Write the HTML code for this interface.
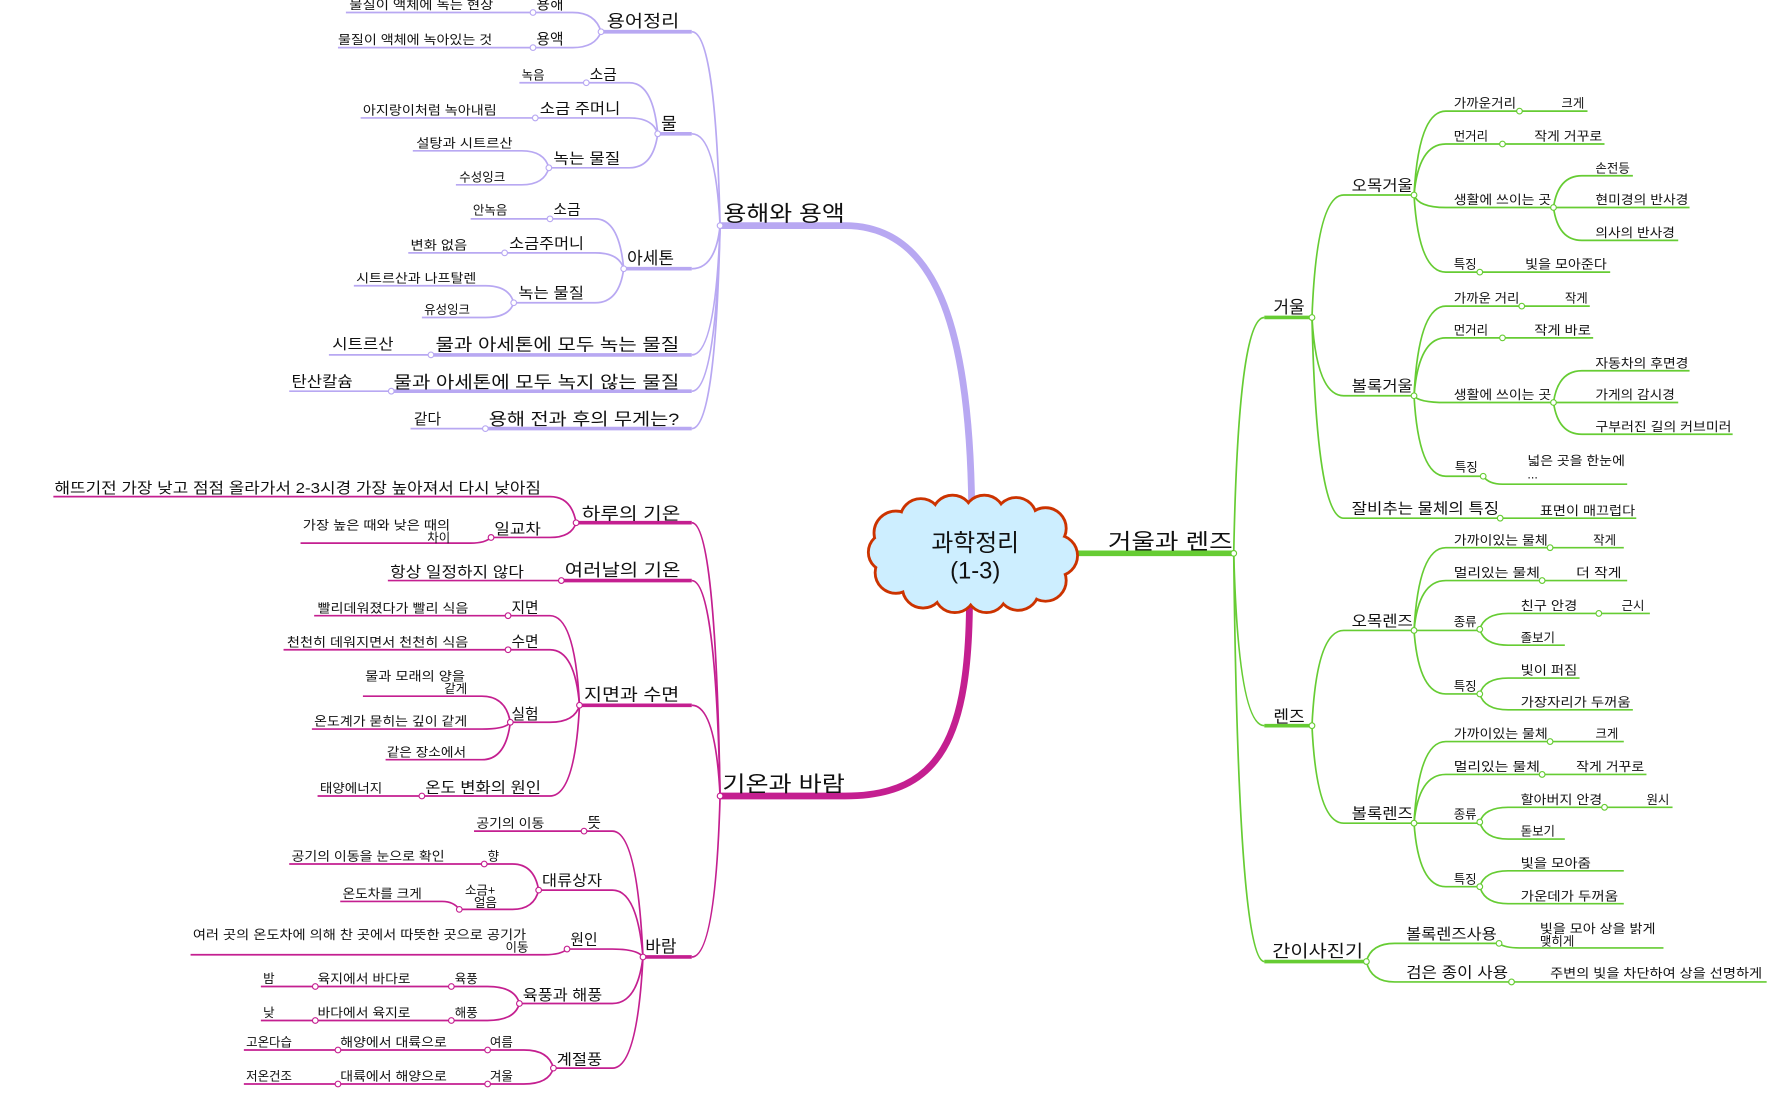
<!DOCTYPE html>
<html><head><meta charset="utf-8"><style>
html,body{margin:0;padding:0;background:#fff;}
svg{display:block;}
text{font-family:"Liberation Sans","Noto Sans CJK KR",sans-serif;fill:#111;}
.p{stroke:#b8a8f2;fill:none;stroke-width:1.5}
.m{stroke:#c41f90;fill:none;stroke-width:1.5}
.g{stroke:#66cc33;fill:none;stroke-width:1.5}
.t{stroke-width:3.2}
.s{font-size:11px}.n{font-size:13px}.l{font-size:15px}.b{font-size:19px}
circle.np{fill:#fff;stroke:#b8a8f2;stroke-width:1}
circle.nm{fill:#fff;stroke:#c41f90;stroke-width:1}
circle.ng{fill:#fff;stroke:#66cc33;stroke-width:1}
</style></head><body>
<svg width="1769" height="1101" viewBox="0 0 1560 971" xmlns="http://www.w3.org/2000/svg">
<!-- main branches -->
<path d="M857 455 C856 300 830 199 745 199 L635 199" fill="none" stroke="#b8a8f2" stroke-width="6"/>
<path d="M855 525 C855 650 830 702 745 702 L635 702" fill="none" stroke="#c41f90" stroke-width="6"/>
<path d="M940 488 L1088 488" fill="none" stroke="#66cc33" stroke-width="5"/>

<!-- cloud -->
<g stroke="#cc3300" stroke-width="5" fill="#cdeeff">
<circle cx="790" cy="470" r="18"/><circle cx="812" cy="458" r="17"/><circle cx="840" cy="455" r="17"/><circle cx="868" cy="455" r="17"/><circle cx="896" cy="457" r="17"/><circle cx="922" cy="466" r="17"/><circle cx="932" cy="490" r="17"/><circle cx="922" cy="512" r="17"/><circle cx="898" cy="520" r="17"/><circle cx="870" cy="522" r="17"/><circle cx="842" cy="522" r="17"/><circle cx="814" cy="518" r="17"/><circle cx="790" cy="505" r="17"/><circle cx="783" cy="487" r="16"/>
</g>
<g fill="#cdeeff">
<circle cx="790" cy="470" r="18"/><circle cx="812" cy="458" r="17"/><circle cx="840" cy="455" r="17"/><circle cx="868" cy="455" r="17"/><circle cx="896" cy="457" r="17"/><circle cx="922" cy="466" r="17"/><circle cx="932" cy="490" r="17"/><circle cx="922" cy="512" r="17"/><circle cx="898" cy="520" r="17"/><circle cx="870" cy="522" r="17"/><circle cx="842" cy="522" r="17"/><circle cx="814" cy="518" r="17"/><circle cx="790" cy="505" r="17"/><circle cx="783" cy="487" r="16"/>
<ellipse cx="858" cy="488" rx="72" ry="30"/>
</g>
<text x="860" y="486" text-anchor="middle" style="font-size:21px">과학정리</text>
<text x="860" y="510" text-anchor="middle" style="font-size:21px">(1-3)</text>

<text class="b" x="638" y="195" textLength="107" lengthAdjust="spacingAndGlyphs">용해와 용액</text>
<text class="b" x="637" y="698" textLength="108" lengthAdjust="spacingAndGlyphs">기온과 바람</text>
<text class="b" x="977" y="484" textLength="110" lengthAdjust="spacingAndGlyphs">거울과 렌즈</text>

<!-- ========== PURPLE ========== -->
<g>
<path class="p" d="M635 199 Q631 28 610 28"/><path class="p t" d="M610 28 H530"/>
<path class="p" d="M635 199 Q631 118 610 118"/><path class="p t" d="M610 118 H580"/>
<path class="p" d="M635 199 Q631 237 610 237"/><path class="p t" d="M610 237 H550"/>
<path class="p" d="M635 199 Q631 313 610 313"/><path class="p t" d="M610 313 H380"/>
<path class="p" d="M635 199 Q631 345 610 345"/><path class="p t" d="M610 345 H345"/>
<path class="p" d="M635 199 Q631 378 610 378"/><path class="p t" d="M610 378 H428"/>

<path class="p" d="M530 28 Q525 11 505 11 H470 H305"/>
<path class="p" d="M530 28 Q525 42 505 42 H470 H298"/>
<path class="p" d="M580 118 Q576 73 555 73 H517 H458"/>
<path class="p" d="M580 118 Q576 104 555 104 H472 H318"/>
<path class="p" d="M580 118 Q576 148 555 148 H484"/>
<path class="p" d="M484 148 Q480 133 460 133 H364"/>
<path class="p" d="M484 148 Q480 163 460 163 H402"/>
<path class="p" d="M550 237 Q546 193 525 193 H485 H415"/>
<path class="p" d="M550 237 Q546 223 525 223 H445 H360"/>
<path class="p" d="M550 237 Q546 267 525 267 H453"/>
<path class="p" d="M453 267 Q449 252 428 252 H312"/>
<path class="p" d="M453 267 Q449 280 428 280 H372"/>
<path class="p" d="M380 313 H290"/>
<path class="p" d="M345 345 H255"/>
<path class="p" d="M428 378 H362"/>

<circle class="np" cx="635" cy="199" r="2.5"/><circle class="np" cx="530" cy="28" r="2.5"/><circle class="np" cx="470" cy="11" r="2.5"/><circle class="np" cx="470" cy="42" r="2.5"/><circle class="np" cx="580" cy="118" r="2.5"/><circle class="np" cx="517" cy="73" r="2.5"/><circle class="np" cx="472" cy="104" r="2.5"/><circle class="np" cx="484" cy="148" r="2.5"/><circle class="np" cx="550" cy="237" r="2.5"/><circle class="np" cx="485" cy="193" r="2.5"/><circle class="np" cx="445" cy="223" r="2.5"/><circle class="np" cx="453" cy="267" r="2.5"/><circle class="np" cx="380" cy="313" r="2.5"/><circle class="np" cx="345" cy="345" r="2.5"/><circle class="np" cx="428" cy="378" r="2.5"/>

<text class="l" x="535" y="24" textLength="64" lengthAdjust="spacingAndGlyphs">용어정리</text>
<text class="n" x="473" y="8">용해</text>
<text class="s" x="308" y="8" textLength="127" lengthAdjust="spacingAndGlyphs">물질이 액체에 녹는 현상</text>
<text class="n" x="473" y="39">용액</text>
<text class="s" x="298" y="39" textLength="136" lengthAdjust="spacingAndGlyphs">물질이 액체에 녹아있는 것</text>
<text class="l" x="583" y="114">물</text>
<text class="n" x="520" y="70">소금</text>
<text class="s" x="460" y="70">녹음</text>
<text class="n" x="476" y="100" textLength="71" lengthAdjust="spacingAndGlyphs">소금 주머니</text>
<text class="s" x="320" y="101" textLength="118" lengthAdjust="spacingAndGlyphs">아지랑이처럼 녹아내림</text>
<text class="n" x="488" y="144" textLength="59" lengthAdjust="spacingAndGlyphs">녹는 물질</text>
<text class="s" x="367" y="130" textLength="85" lengthAdjust="spacingAndGlyphs">설탕과 시트르산</text>
<text class="s" x="405" y="160">수성잉크</text>
<text class="l" x="553" y="233">아세톤</text>
<text class="n" x="488" y="189">소금</text>
<text class="s" x="417" y="189">안녹음</text>
<text class="n" x="449" y="219" textLength="66" lengthAdjust="spacingAndGlyphs">소금주머니</text>
<text class="s" x="362" y="220" textLength="50" lengthAdjust="spacingAndGlyphs">변화 없음</text>
<text class="n" x="457" y="263" textLength="58" lengthAdjust="spacingAndGlyphs">녹는 물질</text>
<text class="s" x="314" y="249" textLength="106" lengthAdjust="spacingAndGlyphs">시트르산과 나프탈렌</text>
<text class="s" x="374" y="277">유성잉크</text>
<text class="l" x="384" y="309" textLength="215" lengthAdjust="spacingAndGlyphs">물과 아세톤에 모두 녹는 물질</text>
<text class="n" x="293" y="308" textLength="54" lengthAdjust="spacingAndGlyphs">시트르산</text>
<text class="l" x="347" y="342" textLength="252" lengthAdjust="spacingAndGlyphs">물과 아세톤에 모두 녹지 않는 물질</text>
<text class="n" x="257" y="341" textLength="54" lengthAdjust="spacingAndGlyphs">탄산칼슘</text>
<text class="l" x="431" y="375" textLength="168" lengthAdjust="spacingAndGlyphs">용해 전과 후의 무게는?</text>
<text class="n" x="365" y="374">같다</text>
</g>

<!-- ========== MAGENTA ========== -->
<g>
<path class="m" d="M635 702 Q631 461 610 461"/><path class="m t" d="M610 461 H508"/>
<path class="m" d="M635 702 Q631 512 610 512"/><path class="m t" d="M610 512 H495"/>
<path class="m" d="M635 702 Q631 622 610 622"/><path class="m t" d="M610 622 H511"/>
<path class="m" d="M635 702 Q631 844 610 844"/><path class="m t" d="M610 844 H567"/>

<path class="m" d="M508 461 Q504 438 485 438 H47"/>
<path class="m" d="M508 461 Q504 474 485 474 H433"/>
<path class="m" d="M433 474 Q428 479 415 479 H265"/>
<path class="m" d="M495 512 H342"/>
<path class="m" d="M511 622 Q507 543 485 543 H448 H277"/>
<path class="m" d="M511 622 Q507 573 485 573 H448 H250"/>
<path class="m" d="M511 622 Q507 637 485 637 H450"/>
<path class="m" d="M511 622 Q507 702 485 702 H372 H280"/>
<path class="m" d="M450 637 Q446 614 425 614 H320"/>
<path class="m" d="M450 637 Q446 643 425 643 H275"/>
<path class="m" d="M450 637 Q446 670 425 670 H340"/>

<path class="m" d="M567 844 Q562 733 540 733 H515 H418"/>
<path class="m" d="M567 844 Q562 785 540 785 H475"/>
<path class="m" d="M567 844 Q562 837 540 837 H500"/>
<path class="m" d="M567 844 Q562 885 540 885 H458"/>
<path class="m" d="M567 844 Q562 942 540 942 H488"/>
<path class="m" d="M475 785 Q471 762 452 762 H427 H255"/>
<path class="m" d="M475 785 Q471 802 452 802 H405"/>
<path class="m" d="M405 802 Q400 795 390 795 H300"/>
<path class="m" d="M500 837 Q495 842 480 842 H168"/>
<path class="m" d="M458 885 Q454 870 430 870 H398 H278 H230"/>
<path class="m" d="M458 885 Q454 900 430 900 H398 H278 H230"/>
<path class="m" d="M488 942 Q484 926 462 926 H430 H298 H215"/>
<path class="m" d="M488 942 Q484 956 462 956 H430 H298 H215"/>

<circle class="nm" cx="635" cy="702" r="2.5"/><circle class="nm" cx="508" cy="461" r="2.5"/><circle class="nm" cx="433" cy="474" r="2.5"/><circle class="nm" cx="495" cy="512" r="2.5"/><circle class="nm" cx="511" cy="622" r="2.5"/><circle class="nm" cx="448" cy="543" r="2.5"/><circle class="nm" cx="448" cy="573" r="2.5"/><circle class="nm" cx="450" cy="637" r="2.5"/><circle class="nm" cx="372" cy="702" r="2.5"/><circle class="nm" cx="567" cy="844" r="2.5"/><circle class="nm" cx="515" cy="733" r="2.5"/><circle class="nm" cx="475" cy="785" r="2.5"/><circle class="nm" cx="427" cy="762" r="2.5"/><circle class="nm" cx="405" cy="802" r="2.5"/><circle class="nm" cx="500" cy="837" r="2.5"/><circle class="nm" cx="458" cy="885" r="2.5"/><circle class="nm" cx="398" cy="870" r="2.5"/><circle class="nm" cx="278" cy="870" r="2.5"/><circle class="nm" cx="398" cy="900" r="2.5"/><circle class="nm" cx="278" cy="900" r="2.5"/><circle class="nm" cx="488" cy="942" r="2.5"/><circle class="nm" cx="430" cy="926" r="2.5"/><circle class="nm" cx="298" cy="926" r="2.5"/><circle class="nm" cx="430" cy="956" r="2.5"/><circle class="nm" cx="298" cy="956" r="2.5"/>

<text class="l" x="513" y="458" textLength="87" lengthAdjust="spacingAndGlyphs">하루의 기온</text>
<text class="n" x="48" y="435" textLength="429" lengthAdjust="spacingAndGlyphs">해뜨기전 가장 낮고 점점 올라가서 2-3시경 가장 높아져서 다시 낮아짐</text>
<text class="n" x="436" y="471" textLength="41" lengthAdjust="spacingAndGlyphs">일교차</text>
<text class="s" x="397" y="467" text-anchor="end" textLength="130" lengthAdjust="spacingAndGlyphs">가장 높은 때와 낮은 때의</text>
<text class="s" x="397" y="478" text-anchor="end">차이</text>
<text class="l" x="498" y="508" textLength="102" lengthAdjust="spacingAndGlyphs">여러날의 기온</text>
<text class="n" x="344" y="509" textLength="118" lengthAdjust="spacingAndGlyphs">항상 일정하지 않다</text>
<text class="l" x="515" y="618" textLength="84" lengthAdjust="spacingAndGlyphs">지면과 수면</text>
<text class="n" x="451" y="540">지면</text>
<text class="s" x="280" y="540" textLength="133" lengthAdjust="spacingAndGlyphs">빨리데워졌다가 빨리 식음</text>
<text class="n" x="451" y="570">수면</text>
<text class="s" x="253" y="570" textLength="160" lengthAdjust="spacingAndGlyphs">천천히 데워지면서 천천히 식음</text>
<text class="n" x="451" y="634">실험</text>
<text class="s" x="410" y="600" text-anchor="end" textLength="88" lengthAdjust="spacingAndGlyphs">물과 모래의 양을</text>
<text class="s" x="412" y="611" text-anchor="end">같게</text>
<text class="s" x="277" y="640" textLength="135" lengthAdjust="spacingAndGlyphs">온도계가 묻히는 깊이 같게</text>
<text class="s" x="341" y="667" textLength="70" lengthAdjust="spacingAndGlyphs">같은 장소에서</text>
<text class="n" x="375" y="699" textLength="102" lengthAdjust="spacingAndGlyphs">온도 변화의 원인</text>
<text class="s" x="282" y="699" textLength="55" lengthAdjust="spacingAndGlyphs">태양에너지</text>
<text class="l" x="569" y="840">바람</text>
<text class="n" x="518" y="730">뜻</text>
<text class="s" x="420" y="730" textLength="60" lengthAdjust="spacingAndGlyphs">공기의 이동</text>
<text class="n" x="478" y="781" textLength="53" lengthAdjust="spacingAndGlyphs">대류상자</text>
<text class="s" x="430" y="759">향</text>
<text class="s" x="257" y="759" textLength="135" lengthAdjust="spacingAndGlyphs">공기의 이동을 눈으로 확인</text>
<text class="s" x="410" y="789">소금+</text>
<text class="s" x="418" y="800">얼음</text>
<text class="s" x="302" y="792" textLength="70" lengthAdjust="spacingAndGlyphs">온도차를 크게</text>
<text class="n" x="503" y="833">원인</text>
<text class="s" x="464" y="828" text-anchor="end" textLength="294" lengthAdjust="spacingAndGlyphs">여러 곳의 온도차에 의해 찬 곳에서 따뜻한 곳으로 공기가</text>
<text class="s" x="466" y="839" text-anchor="end">이동</text>
<text class="n" x="461" y="882" textLength="70" lengthAdjust="spacingAndGlyphs">육풍과 해풍</text>
<text class="s" x="401" y="867">육풍</text>
<text class="s" x="280" y="867" textLength="82" lengthAdjust="spacingAndGlyphs">육지에서 바다로</text>
<text class="s" x="232" y="867">밤</text>
<text class="s" x="401" y="897">해풍</text>
<text class="s" x="280" y="897" textLength="82" lengthAdjust="spacingAndGlyphs">바다에서 육지로</text>
<text class="s" x="232" y="897">낮</text>
<text class="n" x="491" y="939" textLength="40" lengthAdjust="spacingAndGlyphs">계절풍</text>
<text class="s" x="432" y="923">여름</text>
<text class="s" x="300" y="923" textLength="94" lengthAdjust="spacingAndGlyphs">해양에서 대륙으로</text>
<text class="s" x="217" y="923">고온다습</text>
<text class="s" x="432" y="953">겨울</text>
<text class="s" x="300" y="953" textLength="94" lengthAdjust="spacingAndGlyphs">대륙에서 해양으로</text>
<text class="s" x="217" y="953">저온건조</text>
</g>

<!-- ========== GREEN ========== -->
<g>
<path class="g" d="M1088 488 Q1092 280 1115 280"/><path class="g t" d="M1115 280 H1157"/>
<path class="g" d="M1088 488 Q1092 640 1115 640"/><path class="g t" d="M1115 640 H1157"/>
<path class="g" d="M1088 488 Q1092 848 1115 848"/><path class="g t" d="M1115 848 H1205"/>

<path class="g" d="M1157 280 Q1161 172 1185 172 H1247"/>
<path class="g" d="M1157 280 Q1161 349 1185 349 H1247"/>
<path class="g" d="M1157 280 Q1161 457 1185 457 H1323 H1443"/>
<path class="g" d="M1247 172 Q1251 98 1275 98 H1340 H1400"/>
<path class="g" d="M1247 172 Q1251 127 1275 127 H1325 H1415"/>
<path class="g" d="M1247 172 Q1251 183 1275 183 H1370"/>
<path class="g" d="M1247 172 Q1251 240 1275 240 H1305 H1420"/>
<path class="g" d="M1370 183 Q1374 155 1395 155 H1440"/>
<path class="g" d="M1370 183 H1490"/>
<path class="g" d="M1370 183 Q1374 212 1395 212 H1480"/>
<path class="g" d="M1247 349 Q1251 270 1275 270 H1342 H1402"/>
<path class="g" d="M1247 349 Q1251 298 1275 298 H1325 H1405"/>
<path class="g" d="M1247 349 Q1251 355 1275 355 H1370"/>
<path class="g" d="M1247 349 Q1251 420 1275 420 H1308"/>
<path class="g" d="M1370 355 Q1374 327 1395 327 H1490"/>
<path class="g" d="M1370 355 H1480"/>
<path class="g" d="M1370 355 Q1374 383 1395 383 H1528"/>
<path class="g" d="M1308 420 Q1313 427 1325 427 H1435"/>

<path class="g" d="M1157 640 Q1161 556 1185 556 H1247"/>
<path class="g" d="M1157 640 Q1161 726 1185 726 H1247"/>
<path class="g" d="M1247 556 Q1251 483 1275 483 H1367 H1432"/>
<path class="g" d="M1247 556 Q1251 512 1275 512 H1360 H1435"/>
<path class="g" d="M1247 556 H1305"/>
<path class="g" d="M1247 556 Q1251 612 1275 612 H1305"/>
<path class="g" d="M1305 555 Q1309 541 1330 541 H1410 H1455"/>
<path class="g" d="M1305 555 Q1309 569 1330 569 H1380"/>
<path class="g" d="M1305 612 Q1309 598 1330 598 H1393"/>
<path class="g" d="M1305 612 Q1309 626 1330 626 H1440"/>
<path class="g" d="M1247 726 Q1251 654 1275 654 H1367 H1432"/>
<path class="g" d="M1247 726 Q1251 683 1275 683 H1360 H1452"/>
<path class="g" d="M1247 726 H1305"/>
<path class="g" d="M1247 726 Q1251 782 1275 782 H1305"/>
<path class="g" d="M1305 725 Q1309 712 1330 712 H1415 H1475"/>
<path class="g" d="M1305 725 Q1309 740 1330 740 H1380"/>
<path class="g" d="M1305 782 Q1309 768 1330 768 H1432"/>
<path class="g" d="M1305 782 Q1309 797 1330 797 H1432"/>

<path class="g" d="M1205 848 Q1209 832 1230 832 H1322"/>
<path class="g" d="M1205 848 Q1209 866 1230 866 H1333 H1558"/>
<path class="g" d="M1322 832 Q1327 836 1340 836 H1467"/>

<circle class="ng" cx="1088" cy="488" r="2.5"/><circle class="ng" cx="1157" cy="280" r="2.5"/><circle class="ng" cx="1157" cy="640" r="2.5"/><circle class="ng" cx="1205" cy="848" r="2.5"/><circle class="ng" cx="1247" cy="172" r="2.5"/><circle class="ng" cx="1247" cy="349" r="2.5"/><circle class="ng" cx="1323" cy="457" r="2.5"/><circle class="ng" cx="1340" cy="98" r="2.5"/><circle class="ng" cx="1325" cy="127" r="2.5"/><circle class="ng" cx="1370" cy="183" r="2.5"/><circle class="ng" cx="1305" cy="240" r="2.5"/><circle class="ng" cx="1342" cy="270" r="2.5"/><circle class="ng" cx="1325" cy="298" r="2.5"/><circle class="ng" cx="1370" cy="355" r="2.5"/><circle class="ng" cx="1308" cy="420" r="2.5"/><circle class="ng" cx="1247" cy="556" r="2.5"/><circle class="ng" cx="1247" cy="726" r="2.5"/><circle class="ng" cx="1367" cy="483" r="2.5"/><circle class="ng" cx="1360" cy="512" r="2.5"/><circle class="ng" cx="1305" cy="555" r="2.5"/><circle class="ng" cx="1410" cy="541" r="2.5"/><circle class="ng" cx="1305" cy="612" r="2.5"/><circle class="ng" cx="1367" cy="654" r="2.5"/><circle class="ng" cx="1360" cy="683" r="2.5"/><circle class="ng" cx="1305" cy="725" r="2.5"/><circle class="ng" cx="1415" cy="712" r="2.5"/><circle class="ng" cx="1305" cy="782" r="2.5"/><circle class="ng" cx="1322" cy="832" r="2.5"/><circle class="ng" cx="1333" cy="866" r="2.5"/>

<text class="l" x="1123" y="276">거울</text>
<text class="l" x="1123" y="637">렌즈</text>
<text class="l" x="1122" y="844" textLength="80" lengthAdjust="spacingAndGlyphs">간이사진기</text>
<text class="n" x="1192" y="168" textLength="54" lengthAdjust="spacingAndGlyphs">오목거울</text>
<text class="n" x="1192" y="345" textLength="54" lengthAdjust="spacingAndGlyphs">볼록거울</text>
<text class="n" x="1192" y="453" textLength="130" lengthAdjust="spacingAndGlyphs">잘비추는 물체의 특징</text>
<text class="s" x="1358" y="454" textLength="84" lengthAdjust="spacingAndGlyphs">표면이 매끄럽다</text>
<text class="s" x="1282" y="95" textLength="55" lengthAdjust="spacingAndGlyphs">가까운거리</text>
<text class="s" x="1377" y="95">크게</text>
<text class="s" x="1282" y="124">먼거리</text>
<text class="s" x="1353" y="124" textLength="60" lengthAdjust="spacingAndGlyphs">작게 거꾸로</text>
<text class="s" x="1282" y="180" textLength="86" lengthAdjust="spacingAndGlyphs">생활에 쓰이는 곳</text>
<text class="s" x="1407" y="152">손전등</text>
<text class="s" x="1407" y="180" textLength="82" lengthAdjust="spacingAndGlyphs">현미경의 반사경</text>
<text class="s" x="1407" y="209" textLength="70" lengthAdjust="spacingAndGlyphs">의사의 반사경</text>
<text class="s" x="1282" y="237">특징</text>
<text class="s" x="1345" y="237" textLength="72" lengthAdjust="spacingAndGlyphs">빛을 모아준다</text>
<text class="s" x="1282" y="267" textLength="58" lengthAdjust="spacingAndGlyphs">가까운 거리</text>
<text class="s" x="1380" y="267">작게</text>
<text class="s" x="1282" y="295">먼거리</text>
<text class="s" x="1353" y="295" textLength="50" lengthAdjust="spacingAndGlyphs">작게 바로</text>
<text class="s" x="1282" y="352" textLength="86" lengthAdjust="spacingAndGlyphs">생활에 쓰이는 곳</text>
<text class="s" x="1407" y="324" textLength="82" lengthAdjust="spacingAndGlyphs">자동차의 후면경</text>
<text class="s" x="1407" y="352" textLength="70" lengthAdjust="spacingAndGlyphs">가게의 감시경</text>
<text class="s" x="1407" y="380" textLength="120" lengthAdjust="spacingAndGlyphs">구부러진 길의 커브미러</text>
<text class="s" x="1283" y="416">특징</text>
<text class="s" x="1347" y="410" textLength="86" lengthAdjust="spacingAndGlyphs">넓은 곳을 한눈에</text>
<text class="s" x="1347" y="422">...</text>

<text class="n" x="1192" y="552" textLength="54" lengthAdjust="spacingAndGlyphs">오목렌즈</text>
<text class="n" x="1192" y="722" textLength="54" lengthAdjust="spacingAndGlyphs">볼록렌즈</text>
<text class="s" x="1282" y="480" textLength="83" lengthAdjust="spacingAndGlyphs">가까이있는 물체</text>
<text class="s" x="1405" y="480">작게</text>
<text class="s" x="1282" y="509" textLength="76" lengthAdjust="spacingAndGlyphs">멀리있는 물체</text>
<text class="s" x="1390" y="509" textLength="40" lengthAdjust="spacingAndGlyphs">더 작게</text>
<text class="s" x="1282" y="552">종류</text>
<text class="s" x="1341" y="538" textLength="50" lengthAdjust="spacingAndGlyphs">친구 안경</text>
<text class="s" x="1430" y="538">근시</text>
<text class="s" x="1341" y="566">졸보기</text>
<text class="s" x="1282" y="609">특징</text>
<text class="s" x="1341" y="595" textLength="50" lengthAdjust="spacingAndGlyphs">빛이 퍼짐</text>
<text class="s" x="1341" y="623" textLength="97" lengthAdjust="spacingAndGlyphs">가장자리가 두꺼움</text>
<text class="s" x="1282" y="651" textLength="83" lengthAdjust="spacingAndGlyphs">가까이있는 물체</text>
<text class="s" x="1407" y="651">크게</text>
<text class="s" x="1282" y="680" textLength="76" lengthAdjust="spacingAndGlyphs">멀리있는 물체</text>
<text class="s" x="1390" y="680" textLength="60" lengthAdjust="spacingAndGlyphs">작게 거꾸로</text>
<text class="s" x="1282" y="722">종류</text>
<text class="s" x="1341" y="709" textLength="72" lengthAdjust="spacingAndGlyphs">할아버지 안경</text>
<text class="s" x="1452" y="709">원시</text>
<text class="s" x="1341" y="737">돋보기</text>
<text class="s" x="1282" y="779">특징</text>
<text class="s" x="1341" y="765" textLength="62" lengthAdjust="spacingAndGlyphs">빛을 모아줌</text>
<text class="s" x="1341" y="794" textLength="86" lengthAdjust="spacingAndGlyphs">가운데가 두꺼움</text>

<text class="n" x="1240" y="828" textLength="80" lengthAdjust="spacingAndGlyphs">볼록렌즈사용</text>
<text class="s" x="1358" y="823" textLength="102" lengthAdjust="spacingAndGlyphs">빛을 모아 상을 밝게</text>
<text class="s" x="1358" y="834">맺히게</text>
<text class="n" x="1240" y="862" textLength="90" lengthAdjust="spacingAndGlyphs">검은 종이 사용</text>
<text class="s" x="1367" y="862" textLength="187" lengthAdjust="spacingAndGlyphs">주변의 빛을 차단하여 상을 선명하게</text>
</g>
</svg>
</body></html>
